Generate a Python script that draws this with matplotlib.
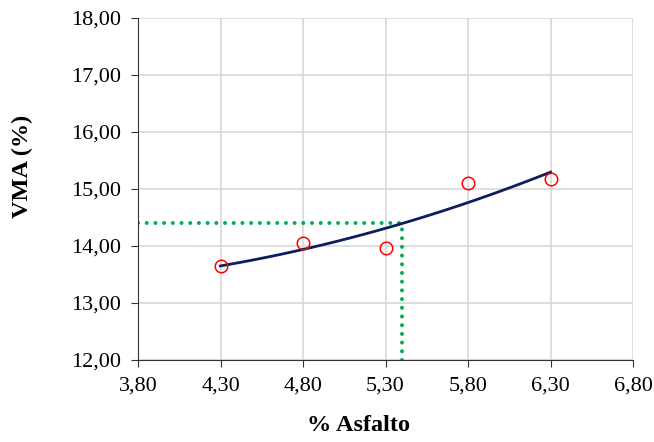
import numpy as np
import matplotlib.pyplot as plt
from matplotlib.ticker import FuncFormatter

# data
asfalto = [4.30, 4.80, 5.30, 5.80, 6.30]
vma = [13.65, 14.05, 13.97, 15.10, 15.18]
vma_target = 14.4
asfalto_opt = 5.40

# 2nd order trendline, like the spreadsheet does
coef = np.polyfit(asfalto, vma, 2)
xs = np.linspace(min(asfalto), max(asfalto), 100)
ys = np.polyval(coef, xs)

plt.rcParams['font.family'] = ['Liberation Serif', 'DejaVu Serif']

fig = plt.figure(figsize=(6.54, 4.42), dpi=100)
ax = fig.add_axes([0.211, 0.1855, 0.757, 0.7745])

ax.plot(xs, ys, color='#0c1f5c', lw=2, zorder=3)
ax.plot(asfalto, vma, 'o', mfc='none', mec='red', ms=9, mew=1.1, zorder=4)
dots = dict(color='#00b050', lw=2.9, ls=(0, (0.01, 2.15)),
            dash_capstyle='round', zorder=2)
ax.plot([3.80, asfalto_opt], [vma_target, vma_target], **dots)
ax.plot([asfalto_opt, asfalto_opt], [12.0, vma_target], **dots)

ax.set_xlim(3.80, 6.80)
ax.set_ylim(12.0, 18.0)
ax.set_xticks(np.arange(3.80, 6.81, 0.5))
ax.set_yticks(np.arange(12, 18.01, 1))
fmt = FuncFormatter(lambda v, p: f'{v:.2f}'.replace('.', ','))
ax.xaxis.set_major_formatter(fmt)
ax.yaxis.set_major_formatter(fmt)

ax.grid(True, color='#d4d4d4', lw=1.1)
ax.set_axisbelow(True)
for s in ['top', 'right']:
    ax.spines[s].set_visible(False)
for s in ['left', 'bottom']:
    ax.spines[s].set_color('#333333')
ax.tick_params(direction='out', length=5, labelsize=16, color='#333333', pad=7)

ax.set_xlabel('% Asfalto', fontsize=17.5, fontweight='bold', va='center')
ax.set_ylabel('VMA (%)', fontsize=17.5, fontweight='bold', va='center')
ax.xaxis.set_label_coords(0.445, -0.19)
ax.yaxis.set_label_coords(-0.234, 0.567)

fig.savefig('out.png', dpi=100)
